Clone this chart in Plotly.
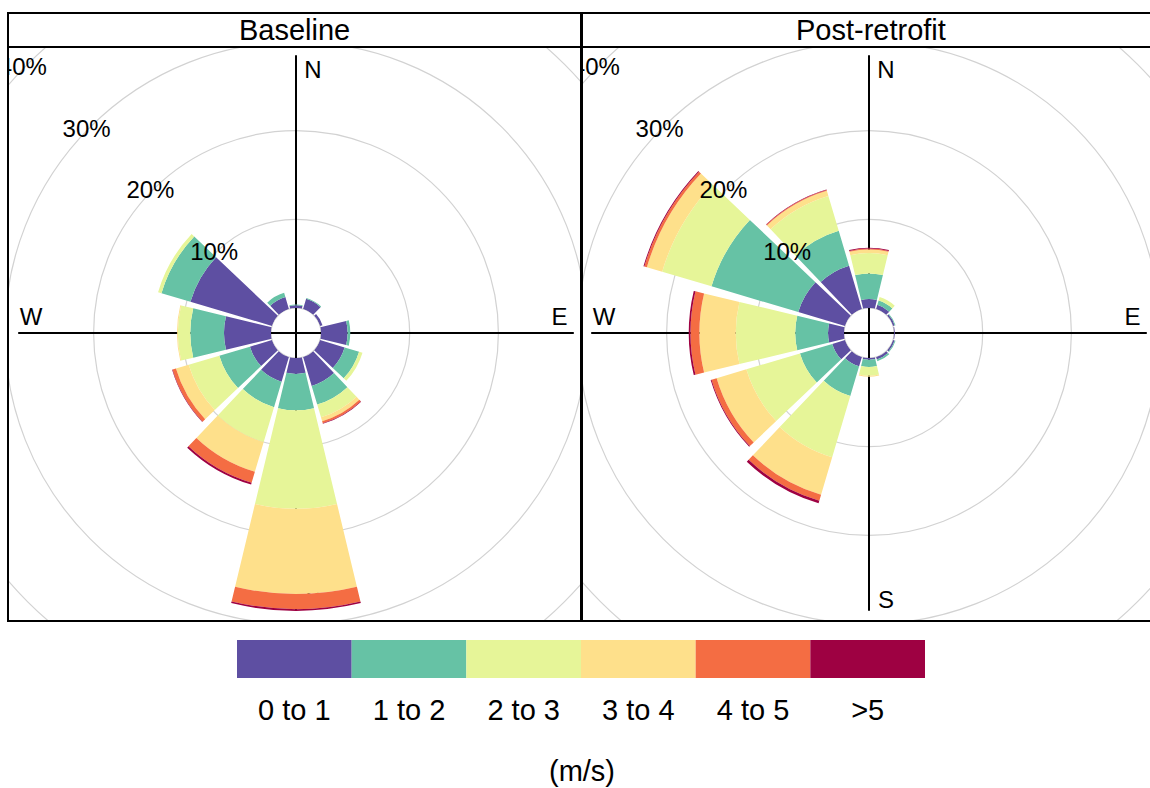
import plotly.graph_objects as go

# ---------------------------------------------------------------- data
directions = [0, 30, 60, 90, 120, 150, 180, 210, 240, 270, 300, 330]
speed_bins = ["0 to 1", "1 to 2", "2 to 3", "3 to 4", "4 to 5", ">5"]
bin_colors = ["#5E4FA2", "#66C2A5", "#E6F598", "#FEE08B", "#F46D43", "#9E0142"]
panel_names = ["Baseline", "Post-retrofit"]
grid_levels = [0, 10, 20, 30, 40]
grid_labels = ["10%", "20%", "30%", "40%"]
compass_labels = ["N", "E", "S", "W"]

# frequency of counts (%) by wind direction, one list per speed bin
baseline_0_1 = [0.3, 1.2, 0.3, 3.0, 2.9, 3.4, 1.8, 2.9, 2.6, 5.3, 9.6, 1.4]
baseline_1_2 = [0.1, 0.1, 0.0, 0.3, 1.7, 2.2, 4.1, 3.0, 3.6, 3.8, 3.4, 0.5]
baseline_2_3 = [0.0, 0.0, 0.0, 0.0, 0.4, 1.5, 11.1, 4.1, 3.6, 1.4, 0.4, 0.0]
baseline_3_4 = [0.0, 0.0, 0.0, 0.0, 0.0, 0.45, 9.6, 3.5, 1.5, 0.1, 0.0, 0.0]
baseline_4_5 = [0.0, 0.0, 0.0, 0.0, 0.0, 0.25, 1.7, 1.3, 0.4, 0.0, 0.0, 0.0]
baseline_gt5 = [0.0, 0.0, 0.0, 0.0, 0.0, 0.05, 0.2, 0.2, 0.05, 0.0, 0.0, 0.0]

post_0_1 = [1.0, 0.5, 0.2, 0.1, 0.2, 0.3, 0.2, 1.1, 1.5, 1.8, 5.5, 5.1]
post_1_2 = [2.9, 0.5, 0.1, 0.0, 0.1, 0.2, 0.8, 3.5, 3.8, 3.7, 10.2, 4.1]
post_2_3 = [2.3, 0.4, 0.0, 0.0, 0.0, 0.0, 1.0, 7.2, 6.3, 6.7, 5.8, 4.1]
post_3_4 = [0.4, 0.0, 0.0, 0.0, 0.0, 0.0, 0.1, 4.4, 3.5, 4.1, 1.8, 0.6]
post_4_5 = [0.1, 0.0, 0.0, 0.0, 0.0, 0.0, 0.0, 0.7, 0.6, 1.0, 0.3, 0.1]
post_gt5 = [0.1, 0.0, 0.0, 0.0, 0.0, 0.0, 0.0, 0.3, 0.1, 0.2, 0.1, 0.05]

panel_data = [
    [baseline_0_1, baseline_1_2, baseline_2_3, baseline_3_4, baseline_4_5, baseline_gt5],
    [post_0_1, post_1_2, post_2_3, post_3_4, post_4_5, post_gt5],
]

# ---------------------------------------------------------------- geometry (pixels)
W, H = 1150, 788
PX_PER_PCT = 8.87          # radial scale shared by both panels
HOLE_PX = 25               # empty centre (offset) radius
OFFSET = HOLE_PX / PX_PER_PCT
SEG_WIDTH = 27             # 0.9 of the 30 degree sector
LABEL_BEARING = 314
FONT = "Liberation Sans, Arial, sans-serif"

frames = [(8, 581), (582, 1160)]       # panel left/right edges
STRIP_TOP, STRIP_BOT, PANEL_BOT = 13, 47, 621
centres = [(296, 333), (869, 333)]
polar_radius = [285, 280]


def fx(px):
    return px / W


def fy(py):
    return 1 - py / H


max_total = max(sum(b[i] for b in bins) for bins in panel_data for i in range(len(directions)))
axis_len = max_total + OFFSET           # axis cross length in radial units

fig = go.Figure()
shapes, annotations = [], []
layout = {}

import math

for p, (name, bins) in enumerate(zip(panel_names, panel_data)):
    cx, cy = centres[p]
    x0, x1 = frames[p]
    x1c = min(x1, W)
    k = PX_PER_PCT
    xa = "x" if p == 0 else f"x{p + 1}"
    ya = "y" if p == 0 else f"y{p + 1}"
    xkey = "xaxis" if p == 0 else f"xaxis{p + 1}"
    ykey = "yaxis" if p == 0 else f"yaxis{p + 1}"
    layout[xkey] = dict(domain=[fx(x0), fx(x1c)], range=[(x0 - cx) / k, (x1c - cx) / k],
                        visible=False, fixedrange=True, anchor=ya)
    layout[ykey] = dict(domain=[fy(PANEL_BOT), fy(STRIP_BOT)],
                        range=[(cy - PANEL_BOT) / k, (cy - STRIP_BOT) / k],
                        visible=False, fixedrange=True, anchor=xa)

    # grid circles (clipped to the panel)
    for g in grid_levels:
        rr = g + OFFSET
        shapes.append(dict(type="circle", xref=xa, yref=ya, x0=-rr, x1=rr, y0=-rr, y1=rr,
                           line=dict(color="#d2d2d2", width=1.2), layer="below"))

    # N-S / W-E axis cross
    fig.add_trace(go.Scatter(x=[-axis_len, axis_len, None, 0, 0],
                             y=[0, 0, None, -axis_len, axis_len],
                             mode="lines", line=dict(color="black", width=2),
                             xaxis=xa, yaxis=ya, hoverinfo="skip", showlegend=False))

    # compass letters
    cl_x = [17 / k, 263.5 / k, 17 / k, -265 / k]
    cl_y = [261 / k, 14.5 / k, -269 / k, 14.5 / k]
    fig.add_trace(go.Scatter(x=cl_x, y=cl_y, text=compass_labels, mode="text",
                             textfont=dict(family=FONT, size=24, color="black"),
                             xaxis=xa, yaxis=ya, hoverinfo="skip", showlegend=False))

    # outer percentage labels (clipped by the panel)
    outer = [(lab, g) for lab, g in zip(grid_labels, grid_levels[1:]) if g >= 30]
    fig.add_trace(go.Scatter(
        x=[(g + OFFSET) * math.sin(math.radians(LABEL_BEARING)) for _, g in outer],
        y=[(g + OFFSET) * math.cos(math.radians(LABEL_BEARING)) for _, g in outer],
        text=[lab for lab, _ in outer], mode="text", cliponaxis=True,
        textfont=dict(family=FONT, size=24, color="black"),
        xaxis=xa, yaxis=ya, hoverinfo="skip", showlegend=False))

    # wind rose sectors
    pkey = "polar" if p == 0 else f"polar{p + 1}"
    R = polar_radius[p]
    for lab, col, vals in zip(speed_bins, bin_colors, bins):
        fig.add_trace(go.Barpolar(r=vals, theta=directions, width=SEG_WIDTH, name=lab,
                                  marker=dict(color=col, line=dict(width=0)),
                                  subplot=pkey, hoverinfo="skip", showlegend=False))
    inner = [(lab, g) for lab, g in zip(grid_labels, grid_levels[1:]) if g < 30]
    fig.add_trace(go.Scatterpolar(r=[g for _, g in inner], theta=[LABEL_BEARING] * len(inner),
                                  text=[lab for lab, _ in inner], mode="text",
                                  textfont=dict(family=FONT, size=24, color="black"),
                                  subplot=pkey, hoverinfo="skip", showlegend=False))
    layout[pkey] = dict(
        domain=dict(x=[fx(cx - R), fx(cx + R)], y=[fy(cy + R), fy(cy - R)]),
        hole=HOLE_PX / R, bgcolor="rgba(0,0,0,0)", barmode="stack",
        radialaxis=dict(range=[0, (R - HOLE_PX) / PX_PER_PCT], visible=False, showgrid=False),
        angularaxis=dict(direction="clockwise", rotation=90, visible=False, showgrid=False),
    )

    # panel frame and strip
    for (ya0, ya1) in [(STRIP_TOP, STRIP_BOT), (STRIP_BOT, PANEL_BOT)]:
        shapes.append(dict(type="rect", xref="paper", yref="paper",
                           x0=fx(x0), x1=fx(x1), y0=fy(ya1), y1=fy(ya0),
                           line=dict(color="black", width=2), layer="above"))
    annotations.append(dict(text=name, xref="paper", yref="paper",
                            x=fx((x0 + x1) / 2), y=fy((STRIP_TOP + STRIP_BOT) / 2),
                            xanchor="center", yanchor="middle", showarrow=False,
                            font=dict(family=FONT, size=29, color="black")))

# ---------------------------------------------------------------- colour key
fig.add_trace(go.Bar(x=speed_bins, y=[1] * len(speed_bins), width=1,
                     marker=dict(color=bin_colors, line=dict(width=0)),
                     xaxis="x3", yaxis="y3", hoverinfo="skip", showlegend=False))
layout["xaxis3"] = dict(domain=[fx(237), fx(925)], anchor="y3", showline=False, ticks="",
                        showgrid=False, zeroline=False, fixedrange=True,
                        tickfont=dict(family=FONT, size=29, color="black"),
                        ticklabelstandoff=12)
layout["yaxis3"] = dict(domain=[fy(678), fy(640)], anchor="x3", range=[0, 1],
                        visible=False, fixedrange=True)
annotations.append(dict(text="(m/s)", xref="paper", yref="paper", x=fx(582), y=fy(771),
                        xanchor="center", yanchor="middle", showarrow=False,
                        font=dict(family=FONT, size=29, color="black")))

fig.update_layout(
    width=W, height=H, autosize=False,
    margin=dict(l=0, r=0, t=0, b=0),
    paper_bgcolor="white", plot_bgcolor="rgba(0,0,0,0)",
    shapes=shapes, annotations=annotations, showlegend=False,
    **layout,
)

fig.write_html("out.html")
